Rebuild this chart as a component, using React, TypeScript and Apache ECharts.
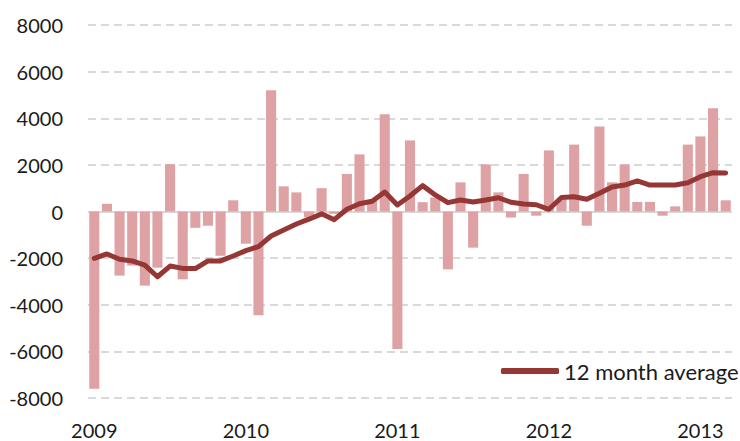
import React, { useEffect, useRef } from "react";
import * as echarts from "echarts";

const years = [2009, 2010, 2011, 2012, 2013];
const months = ["01", "02", "03", "04", "05", "06", "07", "08", "09", "10", "11", "12"];
const categories: string[] = [];
years.forEach((y) => months.forEach((m) => categories.push(`${y}-${m}`)));
categories.length = 51;

const monthlyValues = [
  -7600, 330, -2750, -2320, -3180, -2410, 2030, -2910, -700, -610, -1900, 480,
  -1380, -4450, 5200, 1080, 820, -250, 1000, -100, 1610, 2450, 450, 4170,
  -5900, 3050, 400, 600, -2480, 1250, -1550, 2020, 820, -260, 1610, -180,
  2620, 500, 2870, -610, 3650, 1250, 2020, 410, 410, -180, 220, 2870,
  3220, 4430, 480,
];

const average12 = [
  -2010, -1820, -2050, -2120, -2300, -2800, -2340, -2440, -2450, -2120, -2120, -1910,
  -1680, -1510, -1050, -795, -535, -330, -100, -350, 95, 330, 440, 835,
  280, 665, 1110, 710, 380, 495, 410, 495, 590, 395, 320, 290,
  95, 600, 635, 525, 780, 1050, 1135, 1310, 1135, 1135, 1135, 1235,
  1495, 1665, 1650,
];

const yMin = -8000;
const yMax = 8000;
const yInterval = 2000;

const FONT = "Lato";

export default function App() {
  const ref = useRef<HTMLDivElement>(null);
  useEffect(() => {
    if (!ref.current) return;
    const chart = echarts.init(ref.current, null, { renderer: "svg" });
    chart.setOption({
      animation: false,
      backgroundColor: "#ffffff",
      textStyle: { fontFamily: FONT },
      grid: { left: 88, right: 8, top: 25, bottom: 43, containLabel: false },
      legend: {
        data: ["12 month average"],
        left: 496,
        top: 355,
        itemWidth: 58,
        itemHeight: 6,
        itemGap: 0,
        icon: "roundRect",
        textStyle: { fontFamily: FONT, fontSize: 22, color: "#1a1a1a" },
      },
      xAxis: {
        type: "category",
        data: categories,
        boundaryGap: true,
        axisLine: { show: false },
        axisTick: { show: false },
        axisLabel: {
          interval: (index: number) => index % 12 === 0,
          formatter: (v: string) => v.slice(0, 4),
          fontFamily: FONT,
          fontSize: 20,
          color: "#1a1a1a",
          margin: 22,
        },
        splitLine: { show: false },
      },
      yAxis: {
        type: "value",
        min: yMin,
        max: yMax,
        interval: yInterval,
        axisLine: { show: false },
        axisTick: { show: false },
        axisLabel: {
          fontFamily: FONT,
          fontSize: 20,
          color: "#1a1a1a",
          margin: 25,
          formatter: (v: number) => String(v),
        },
        splitLine: { show: true, lineStyle: { color: "#d9d9d9", width: 2, type: [8, 5] } },
      },
      series: [
        {
          name: "Monthly",
          type: "bar",
          data: monthlyValues,
          barCategoryGap: "20%",
          itemStyle: { color: "#dea2a4" },
          markLine: {
            silent: true,
            symbol: ["none", "none"],
            label: { show: false },
            lineStyle: { color: "#d9d9d9", width: 2, type: "solid" },
            data: [{ yAxis: 0 }],
            z: 1,
          },
          z: 2,
        },
        {
          name: "12 month average",
          type: "line",
          data: average12,
          symbol: "none",
          lineStyle: { color: "#953735", width: 5, join: "round", cap: "round" },
          itemStyle: { color: "#953735" },
          z: 3,
        },
      ],
    });
    return () => chart.dispose();
  }, []);
  return <div ref={ref} style={{ width: 740, height: 441, position: "absolute", left: 0, top: 0 }} />;
}
